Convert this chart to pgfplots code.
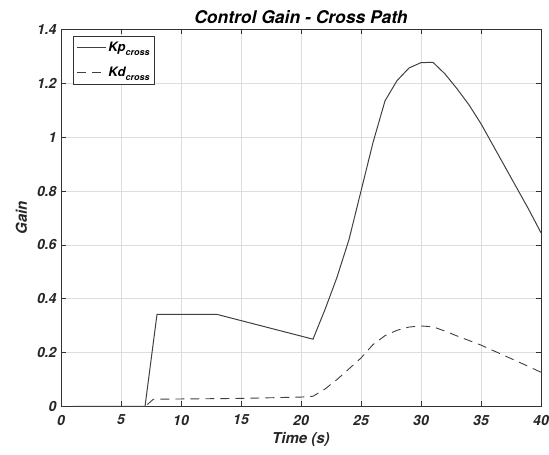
\documentclass[border=0pt]{standalone}
\usepackage{pgfplots}
\pgfplotsset{compat=1.18}
\usepackage{fontspec}
\setmainfont{TeX Gyre Heros}
\begin{document}
\begin{tikzpicture}
\begin{axis}[
  scale only axis,
  width=480pt, height=377pt,
  xmin=0, xmax=40, ymin=0, ymax=1.4,
  clip=false,
  xtick={0,5,...,40},
  ytick={0,0.2,0.4,0.6,0.8,1,1.2,1.4},
  yticklabels={0,0.2,0.4,0.6,0.8,1,1.2,1.4},
  tick align=inside,
  major tick length=5pt,
  tick style={black!80, line width=0.6pt},
  axis line style={black!80, line width=0.8pt},
  grid=major,
  major grid style={black!13, line width=0.6pt},
  /pgf/number format/assume math mode=true,
  tick label style={font=\fontsize{14}{16}\selectfont\bfseries\itshape, black!85},
  xticklabel style={yshift=-5pt},
  yticklabel style={xshift=-1pt},
  title={Control Gain - Cross Path},
  title style={font=\fontsize{17.5}{19}\selectfont\bfseries\itshape, yshift=-4pt},
  xlabel={Time (s)},
  ylabel={Gain},
  label style={font=\fontsize{15}{17}\selectfont\bfseries\itshape, black!85},
  xlabel style={yshift=0pt},
  ylabel style={yshift=3pt},
  legend style={font=\fontsize{13}{15}\selectfont\bfseries\itshape, draw=black!80, line width=0.6pt, at={(rel axis cs:0.025,0.983)}, anchor=north west, inner xsep=3pt, inner ysep=4pt, row sep=10pt},
  legend cell align=left,
  legend image code/.code={\draw[#1] (0pt,0pt) -- (29pt,0pt);},
]
\addplot[black!75, line width=1pt] coordinates {
(1,0) (7,0) (8,0.342) (13,0.342) (21,0.25) (22,0.36) (23,0.48) (24,0.62) (25,0.80) (26,0.98) (27,1.135) (28,1.21) (29,1.257) (30,1.277) (31,1.278) (32,1.235) (33,1.18) (34,1.12) (35,1.05) (36,0.97) (37,0.89) (38,0.81) (39,0.73) (40,0.645)
};
\addlegendentry{Kp\raisebox{-4pt}{\fontsize{9}{10}\selectfont cross}}
\addplot[black!75, line width=0.9pt, dash pattern=on 9pt off 6pt] coordinates {
(1,0) (7,0) (7.7,0.027) (10,0.028) (15,0.03) (20,0.035) (21,0.038) (22,0.065) (23,0.10) (24,0.14) (25,0.18) (26,0.23) (27,0.263) (28,0.283) (29,0.295) (30,0.299) (31,0.296) (32,0.28) (33,0.262) (34,0.245) (35,0.228) (36,0.208) (37,0.188) (38,0.168) (39,0.148) (40,0.127)
};
\addlegendentry{Kd\raisebox{-4pt}{\fontsize{9}{10}\selectfont cross}}
\coordinate (sw) at (rel axis cs:0,0);
\coordinate (ne) at (rel axis cs:1,1);
\end{axis}
\pgfresetboundingbox
\path[use as bounding box] ([shift={(-61pt,-48.5pt)}]sw) rectangle ([shift={(8pt,29.5pt)}]ne);
\end{tikzpicture}
\end{document}
